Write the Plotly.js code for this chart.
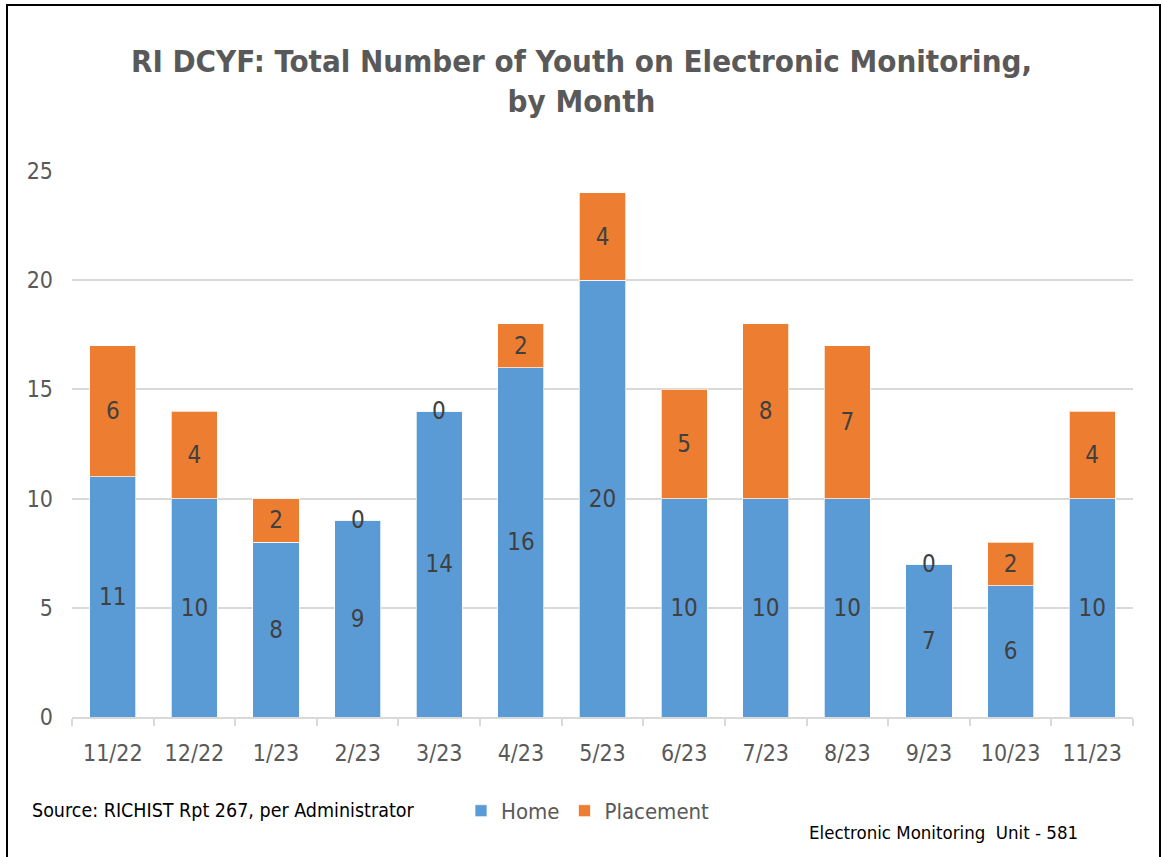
<!DOCTYPE html>
<html>
<head>
<meta charset="utf-8">
<script src="https://cdn.plot.ly/plotly-3.0.1.min.js"></script>
<style>
  html, body { margin: 0; padding: 0; background: #fff; overflow: hidden; }
  #chart { width: 1163px; height: 857px; }
  #frame { position: absolute; left: 6px; top: 4px; width: 1151px; height: 900px;
           border: 2px solid #000; pointer-events: none; }
</style>
</head>
<body>
<div id="chart"></div>
<div id="frame"></div>
<script>
const months = ['11/22','12/22','1/23','2/23','3/23','4/23','5/23','6/23','7/23','8/23','9/23','10/23','11/23'];
const home = [11,10,8,9,14,16,20,10,10,10,7,6,10];
const placement = [6,4,2,0,0,2,4,5,8,7,0,2,4];

const FONT = '"DejaVu Sans Condensed", "Liberation Sans Narrow", sans-serif';
const GRAY = '#595959';
const LABEL = '#404040';

const traces = [
  {
    type: 'bar', name: 'Home', x: months, y: home,
    text: home.map(v => v === 0 ? '' : String(v)),
    textposition: 'inside', insidetextanchor: 'middle', textangle: 0,
    textfont: { family: FONT, size: 24, color: LABEL },
    marker: { color: '#5B9BD5', line: { color: 'rgba(255,255,255,0.7)', width: 1 } },
    hoverinfo: 'x+y+name'
  },
  {
    type: 'bar', name: 'Placement', x: months, y: placement,
    text: placement.map(v => v === 0 ? '' : String(v)),
    textposition: 'inside', insidetextanchor: 'middle', textangle: 0,
    textfont: { family: FONT, size: 24, color: LABEL },
    marker: { color: '#ED7D31', line: { color: 'rgba(255,255,255,0.7)', width: 1 } },
    hoverinfo: 'x+y+name'
  }
];

// "0" labels for zero-valued placement points, sitting at the top of the stack
const zeroAnn = [];
placement.forEach((v, i) => {
  if (v === 0) {
    zeroAnn.push({
      x: months[i], y: home[i] + v, xref: 'x', yref: 'y',
      text: '0', showarrow: false, yanchor: 'middle',
      font: { family: FONT, size: 24, color: LABEL }
    });
  }
});

const layout = {
  width: 1163, height: 857,
  margin: { l: 72, r: 30, t: 171, b: 140 },
  paper_bgcolor: '#ffffff', plot_bgcolor: '#ffffff',
  barmode: 'stack', bargap: 0.435,
  uniformtext: { mode: 'show', minsize: 24 },
  font: { family: FONT, color: GRAY },
  title: {
    text: '<b>RI DCYF: Total Number of Youth on Electronic Monitoring,<br>by Month</b>',
    font: { family: FONT, size: 31, color: GRAY },
    x: 0.5, xref: 'container', xanchor: 'center',
    y: 1 - 72 / 857, yref: 'container', yanchor: 'top'
  },
  xaxis: {
    type: 'category',
    showline: true, linecolor: '#D9D9D9', linewidth: 2,
    ticks: 'outside', tickson: 'boundaries', ticklen: 7, tickcolor: '#D9D9D9', tickwidth: 2,
    showgrid: false,
    tickfont: { family: FONT, size: 23, color: GRAY },
    ticklabelstandoff: 14,
    fixedrange: true
  },
  yaxis: {
    range: [0, 25], dtick: 5, tick0: 0,
    showgrid: true, gridcolor: '#D9D9D9', gridwidth: 2,
    zeroline: false, showline: false, ticks: '',
    tickfont: { family: FONT, size: 23, color: GRAY },
    ticklabelstandoff: 18,
    fixedrange: true
  },
  showlegend: true,
  legend: {
    orientation: 'h', x: (461 - 72) / 1061, xanchor: 'left', y: -0.172, yanchor: 'middle',
    font: { family: FONT, size: 22, color: GRAY },
    traceorder: 'normal', itemwidth: 30
  },
  annotations: zeroAnn.concat([
    {
      text: 'Source: RICHIST Rpt 267, per Administrator',
      xref: 'paper', yref: 'paper', x: (30 - 72) / 1061, y: -0.172,
      xanchor: 'left', yanchor: 'middle', showarrow: false,
      font: { family: FONT, size: 19.5, color: '#000000' }
    },
    {
      text: 'Electronic Monitoring  Unit - 581',
      xref: 'paper', yref: 'paper', x: (1080 - 72) / 1061, y: -(832 - 717) / 546,
      xanchor: 'right', yanchor: 'middle', showarrow: false,
      font: { family: FONT, size: 18.5, color: '#000000' }
    }
  ])
};

Plotly.newPlot('chart', traces, layout, { displayModeBar: false });
</script>
</body>
</html>
